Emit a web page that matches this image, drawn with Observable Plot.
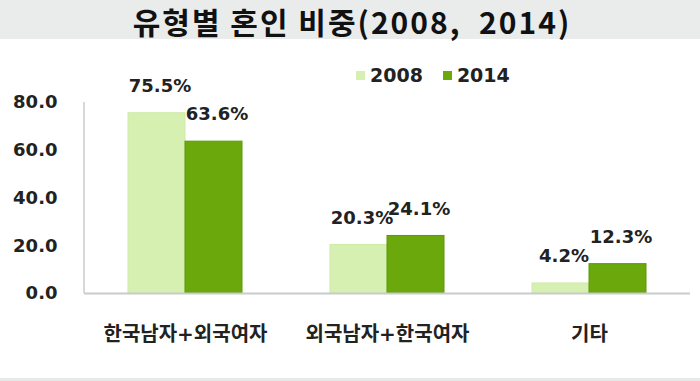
<!DOCTYPE html>
<html>
<head>
<meta charset="utf-8">
<script src="https://cdn.jsdelivr.net/npm/d3@7"></script>
<script src="https://cdn.jsdelivr.net/npm/@observablehq/plot@0.6"></script>
<style>
  html, body { margin: 0; padding: 0; background: #fff; width: 700px; height: 381px; overflow: hidden; }
  #wrap { position: relative; width: 700px; height: 381px; }
  #band { position: absolute; left: 0; top: 0; width: 700px; height: 39px; background: #e9eceb; }
  #title { position: absolute; left: 0; top: 0; width: 700px; height: 44px; text-align: center; font-family: "Noto Sans CJK KR", sans-serif; font-weight: 700; font-size: 30px; line-height: 43px; letter-spacing: 2px; color: #111; white-space: pre; padding-left: 4px; box-sizing: border-box; }
  #chart { position: absolute; left: 0; top: 39px; }
  #chart svg { display: block; }
  #strip { position: absolute; left: 0; top: 378px; width: 700px; height: 3px; background: #e6e9e8; }
  #legend { position: absolute; top: 64px; left: 356px; font-family: "DejaVu Sans", sans-serif; font-weight: bold; font-size: 19px; color: #222; display: flex; align-items: center; }
  #legend .item { display: flex; align-items: center; margin-right: 20px; }
  #legend .sw { width: 9px; height: 9px; margin-right: 5px; }
</style>
</head>
<body>
<div id="wrap">
  <div id="band"></div>
  <div id="chart"></div>
  <div id="title">유형별 혼인 비중(2008,  2014)</div>
  <div id="legend"></div>
  <div id="strip"></div>
</div>
<script>
const categories = ["한국남자+외국여자", "외국남자+한국여자", "기타"];
const years = ["2008", "2014"];
const values2008 = [75.5, 20.3, 4.2];
const values2014 = [63.6, 24.1, 12.3];
const yTicks = [0, 20, 40, 60, 80];
const colors = ["#d6f0b2", "#6aa80c"];
const strokes = ["#cfeaa8", "#5c9a04"];

const data = [];
categories.forEach((c, i) => {
  data.push({type: c, year: years[0], value: values2008[i]});
  data.push({type: c, year: years[1], value: values2014[i]});
});

const chart = Plot.plot({
  width: 700,
  height: 339,
  marginLeft: 84,
  marginRight: 10,
  marginTop: 63,
  marginBottom: 85,
  style: {fontFamily: "'DejaVu Sans', 'Noto Sans CJK KR', sans-serif", fontWeight: "bold", color: "#222", background: "white"},
  fx: {domain: categories, padding: 0, label: null},
  x: {domain: years, paddingInner: 0, paddingOuter: 0.77, axis: null},
  y: {domain: [0, 80], label: null},
  color: {domain: years, range: colors},
  marks: [
    Plot.axisY({ticks: yTicks, tickFormat: d3.format(".1f"), tickSize: 0, tickPadding: 27, fontSize: 18, label: null, fill: "#222"}),
    Plot.axisFx({anchor: "bottom", tickSize: 0, tickPadding: 33, fontSize: 20, label: null, fill: "#222"}),
    Plot.barY(data, {fx: "type", x: "year", y: "value", fill: "year", stroke: d => strokes[years.indexOf(d.year)], strokeWidth: 1, insetLeft: 0, insetRight: 0}),
    Plot.ruleY([0], {stroke: "#c8cccc", strokeWidth: 2}),
    Plot.text(data, {fx: "type", x: "year", y: "value", text: d => d.value.toFixed(1) + "%", dy: -27, dx: 3, fontSize: 18, fill: "#222"})
  ]
});
document.getElementById("chart").appendChild(chart);

// y-axis line drawn alongside the axis using the plot's own scale
const yScale = chart.scale("y");
const svg = d3.select(chart);
svg.append("line")
  .attr("x1", 84).attr("x2", 84)
  .attr("y1", yScale.apply(80)).attr("y2", yScale.apply(0))
  .attr("stroke", "#c8cccc").attr("stroke-width", 1.5);

const legend = document.getElementById("legend");
years.forEach((y, i) => {
  const item = document.createElement("div");
  item.className = "item";
  const sw = document.createElement("span");
  sw.className = "sw";
  sw.style.background = colors[i];
  const t = document.createElement("span");
  t.textContent = y;
  item.appendChild(sw);
  item.appendChild(t);
  legend.appendChild(item);
});
</script>
</body>
</html>
